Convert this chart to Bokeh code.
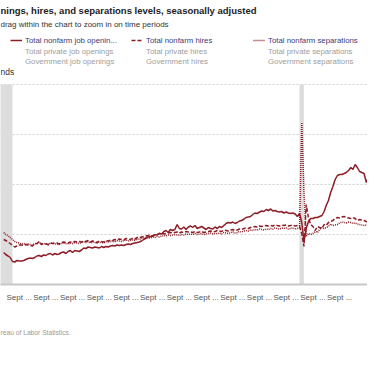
import pandas as pd
from bokeh.plotting import figure
from bokeh.models import (ColumnDataSource, Range1d, FixedTicker, BoxAnnotation,
                          Label, Legend, LegendItem, Title)
from bokeh.embed import file_html
from bokeh.resources import INLINE

# ---------------- data (thousands, seasonally adjusted, monthly from Jan 2009) ----------------
first_month = "2009-01"
openings = [
    3200, 3000, 2850, 2700, 2300, 2250, 2400, 2350, 2350, 2400, 2500, 2600,
    2650, 2600, 2700, 2850, 2900, 2800, 2950, 2900, 3050, 3100, 2950, 3100,
    3000, 3050, 3200, 3250, 3100, 3300, 3400, 3200, 3400, 3350, 3300, 3450,
    3650, 3600, 3750, 3700, 3650, 3750, 3700, 3650, 3800, 3700, 3800, 3750,
    3850, 3900, 3850, 3950, 3900, 3950, 3900, 4000, 4050, 4000, 4100, 4150,
    4200, 4250, 4350, 4500, 4650, 4750, 4800, 4850, 4950, 5000, 5100, 5050,
    5300, 5400, 5200, 5500, 5400, 5500, 6000, 5600, 5550, 5750, 5500, 5750,
    5850, 5700, 5900, 5600, 5700, 5800, 5650, 5500, 5700, 5600, 5550, 5750,
    5600, 5800, 5700, 5900, 6100, 6200, 6150, 6250, 6100, 6200, 6350, 6400,
    6550, 6700, 6750, 6800, 7000, 7150, 7100, 7250, 7350, 7300, 7500, 7400,
    7550, 7350, 7400, 7300, 7250, 7300, 7150, 7250, 7150, 7100, 7150, 7050,
    6800, 7100, 6200, 4300, 5600, 6300, 6600, 6600, 6700, 6700, 6800, 6900,
    7300, 7900, 8400, 9200, 9800, 10500, 10900, 11000, 11000, 11100, 11200, 11400,
    11700, 11500, 12000, 11700, 11300, 11200, 11100, 10200, 10700, 10400, 10800, 11100,
    10900,
]
hires = [
    4500, 4400, 4250, 4100, 3900, 3750, 3850, 3950, 3950, 3900, 4000, 3950,
    3900, 3850, 4050, 4100, 4300, 4000, 4100, 4050, 4000, 4150, 4100, 4150,
    4150, 4050, 4200, 4250, 4200, 4150, 4250, 4200, 4300, 4250, 4300, 4250,
    4350, 4300, 4400, 4250, 4350, 4300, 4200, 4350, 4300, 4250, 4400, 4350,
    4450, 4400, 4500, 4450, 4550, 4500, 4450, 4600, 4550, 4500, 4650, 4550,
    4700, 4650, 4750, 4800, 4850, 4900, 4950, 4850, 5000, 4950, 5100, 5150,
    5050, 5100, 5150, 5200, 5150, 5200, 5250, 5150, 5250, 5200, 5300, 5250,
    5250, 5200, 5300, 5200, 5250, 5300, 5200, 5250, 5300, 5350, 5250, 5300,
    5400, 5350, 5300, 5450, 5400, 5350, 5450, 5500, 5400, 5450, 5550, 5500,
    5600, 5650, 5600, 5700, 5750, 5800, 5750, 5850, 5800, 5850, 5900, 5850,
    5900, 5850, 5950, 5900, 5850, 5950, 5900, 5950, 5850, 5900, 5950, 5850,
    5900, 5800, 5100, 3800, 8000, 6700, 6000, 5800, 5400, 5800, 5700, 5600,
    6000, 5900, 6200, 6300, 6400, 6600, 6700, 6650, 6750, 6800, 6700, 6650,
    6600, 6700, 6600, 6400, 6500, 6450, 6400, 6300, 6250, 6200, 6150, 6100,
    6050,
]
separations = [
    5200, 5000, 4900, 4700, 4500, 4300, 4200, 4150, 4050, 4100, 4000, 4050,
    4000, 3950, 4100, 4050, 4200, 4100, 4050, 4100, 3950, 4150, 4100, 4050,
    4050, 4000, 4100, 4150, 4100, 4050, 4150, 4100, 4200, 4150, 4100, 4200,
    4250, 4200, 4300, 4150, 4250, 4200, 4150, 4250, 4200, 4150, 4300, 4250,
    4300, 4350, 4250, 4400, 4350, 4300, 4400, 4450, 4350, 4400, 4450, 4400,
    4550, 4500, 4600, 4650, 4600, 4700, 4650, 4750, 4700, 4800, 4750, 4850,
    4900, 4850, 4950, 4900, 4950, 5000, 4950, 4900, 5000, 4950, 5050, 5000,
    5050, 5000, 5100, 5000, 5050, 5100, 5000, 5050, 5100, 5150, 5050, 5100,
    5100, 5150, 5050, 5200, 5150, 5100, 5200, 5250, 5150, 5200, 5300, 5250,
    5350, 5400, 5350, 5450, 5400, 5500, 5450, 5550, 5500, 5450, 5550, 5500,
    5600, 5550, 5650, 5600, 5550, 5650, 5600, 5650, 5550, 5600, 5650, 5550,
    5600, 5700, 16200, 9300, 4800, 5100, 5000, 5100, 5300, 5200, 5500, 5700,
    5600, 5700, 5800, 6050, 5900, 5950, 6000, 6150, 6250, 6200, 6150, 6250,
    6200, 6100, 6150, 6050, 6000, 5950, 5900, 5950, 5850, 5900, 5850, 5800,
    5800,
]
tick_dates = ["2009-09-01", "2010-09-01", "2011-09-01", "2012-09-01", "2013-09-01",
              "2014-09-01", "2015-09-01", "2016-09-01", "2017-09-01", "2018-09-01",
              "2019-09-01", "2020-09-01", "2021-09-01"]
tick_labels = ["Sept ...", "Sept ...", "Sept ...", "Sept ...", "Sept ...", "Sept ...", "Sept ...",
               "Sept ...", "Sept ...", "Sept ...", "Sept ...", "Sept ...", "Sept ..."]
y_ticks = [0, 5000, 10000, 15000, 20000]
recession_start = ["2007-12-01", "2020-02-29"]
recession_end = ["2009-06-01", "2020-04-30"]

title_text = "nings, hires, and separations levels, seasonally adjusted"
subtitle_text = "drag within the chart to zoom in on time periods"
unit_text = "nds"
source_text = "reau of Labor Statistics."
legend_labels = [
    ["Total nonfarm job openin...", "Total private job openings", "Government job openings"],
    ["Total nonfarm hires", "Total private hires", "Government hires"],
    ["Total nonfarm separations", "Total private separations", "Government separations"],
]

# ---------------- styling ----------------
RED = "#8c1d26"
GRAY_LINE = "#a3a3a3"
ACTIVE_TXT = "#3b3b78"
INACTIVE_TXT = "#9d9d9d"
FONT = "Liberation Sans"

months = pd.period_range(first_month, periods=len(openings), freq="M").to_timestamp(how="end")
src = ColumnDataSource(dict(date=months, openings=openings, hires=hires, separations=separations))

W, H = 367, 358
FRAME_H = 284

p = figure(width=W, height=H, x_axis_type="datetime", output_backend="svg",
           toolbar_location=None, title=None,
           x_range=Range1d(pd.Timestamp("2008-12-19"), pd.Timestamp("2022-09-17")),
           y_range=Range1d(0, 28400),
           min_border_left=0, min_border_right=0, min_border_top=0, min_border_bottom=H - FRAME_H)
p.outline_line_color = None
p.background_fill_color = "white"
p.border_fill_color = "white"

# y axis hidden (cut off in the reference) but keeps grid
p.yaxis.visible = False
p.yaxis.ticker = FixedTicker(ticks=y_ticks)
p.ygrid.ticker = FixedTicker(ticks=y_ticks)
p.ygrid.grid_line_color = "#cfcfcf"
p.ygrid.grid_line_dash = "2 2"
p.ygrid.grid_line_width = 1
p.xgrid.visible = False

tick_ms = [pd.Timestamp(d).value / 1e6 for d in tick_dates]
p.xaxis.ticker = FixedTicker(ticks=tick_ms)
p.xaxis.major_label_overrides = {t: lab for t, lab in zip(tick_ms, tick_labels)}
p.xaxis.major_tick_line_color = None
p.xaxis.minor_tick_line_color = None
p.xaxis.major_tick_out = 0
p.xaxis.major_tick_in = 0
p.xaxis.axis_line_color = "#c8c8c8"
p.xaxis.axis_line_width = 2
p.xaxis.major_label_text_font = FONT
p.xaxis.major_label_text_font_size = "8px"
p.xaxis.major_label_text_color = "#555555"
p.xaxis.major_label_standoff = 8

for s, e in zip(recession_start, recession_end):
    p.add_layout(BoxAnnotation(left=pd.Timestamp(s), right=pd.Timestamp(e), bottom=0, top=20000,
                               fill_color="#dddddd", fill_alpha=1, line_color=None, level="underlay"))

r_open = p.line("date", "openings", source=src, line_color=RED, line_width=1.5)
r_hire = p.line("date", "hires", source=src, line_color=RED, line_width=1.5, line_dash="4 2")
r_sep = p.line("date", "separations", source=src, line_color=RED, line_width=1.5, line_dash="1 1")

dashes = ["solid", "4 2", "1 1"]
active = [r_open, r_hire, r_sep]
col_x = [10, 131, 253]
row_bottom = [238, 227, 217]
for c in range(3):
    for r in range(3):
        if r == 0:
            rend = active[c]
            tcol = ACTIVE_TXT
        else:
            rend = p.line(x=[], y=[], line_color=GRAY_LINE, line_width=1.5, line_dash=dashes[c])
            tcol = INACTIVE_TXT
        lg = Legend(items=[LegendItem(label=legend_labels[c][r], renderers=[rend])],
                    location=(col_x[c], row_bottom[r]), orientation="vertical",
                    glyph_width=12, glyph_height=12, label_height=12, label_width=10,
                    label_standoff=3, padding=0, margin=0, spacing=0,
                    border_line_color=None, background_fill_alpha=0,
                    label_text_font=FONT, label_text_font_size="7.8px",
                    label_text_color=tcol)
        p.add_layout(lg)

def add_text(txt, x, y, size, color, bold=False):
    p.add_layout(Label(x=x, y=y, x_units="screen", y_units="screen", text=txt,
                       text_font=FONT, text_font_size=size, text_color=color,
                       text_font_style="bold" if bold else "normal",
                       text_baseline="alphabetic", text_align="left"))

add_text(title_text, 0, FRAME_H - 10, "9.5px", "#222222", bold=True)
add_text(subtitle_text, 0, FRAME_H - 23.5, "8px", "#333333")
add_text(unit_text, 0, FRAME_H - 71, "8.5px", "#333333")

p.add_layout(Title(text=source_text, align="left", text_font=FONT, text_font_size="6.7px",
                   text_color="#999999", text_font_style="normal", standoff=45), "below")

open("out.html", "w").write(file_html(p, INLINE))
